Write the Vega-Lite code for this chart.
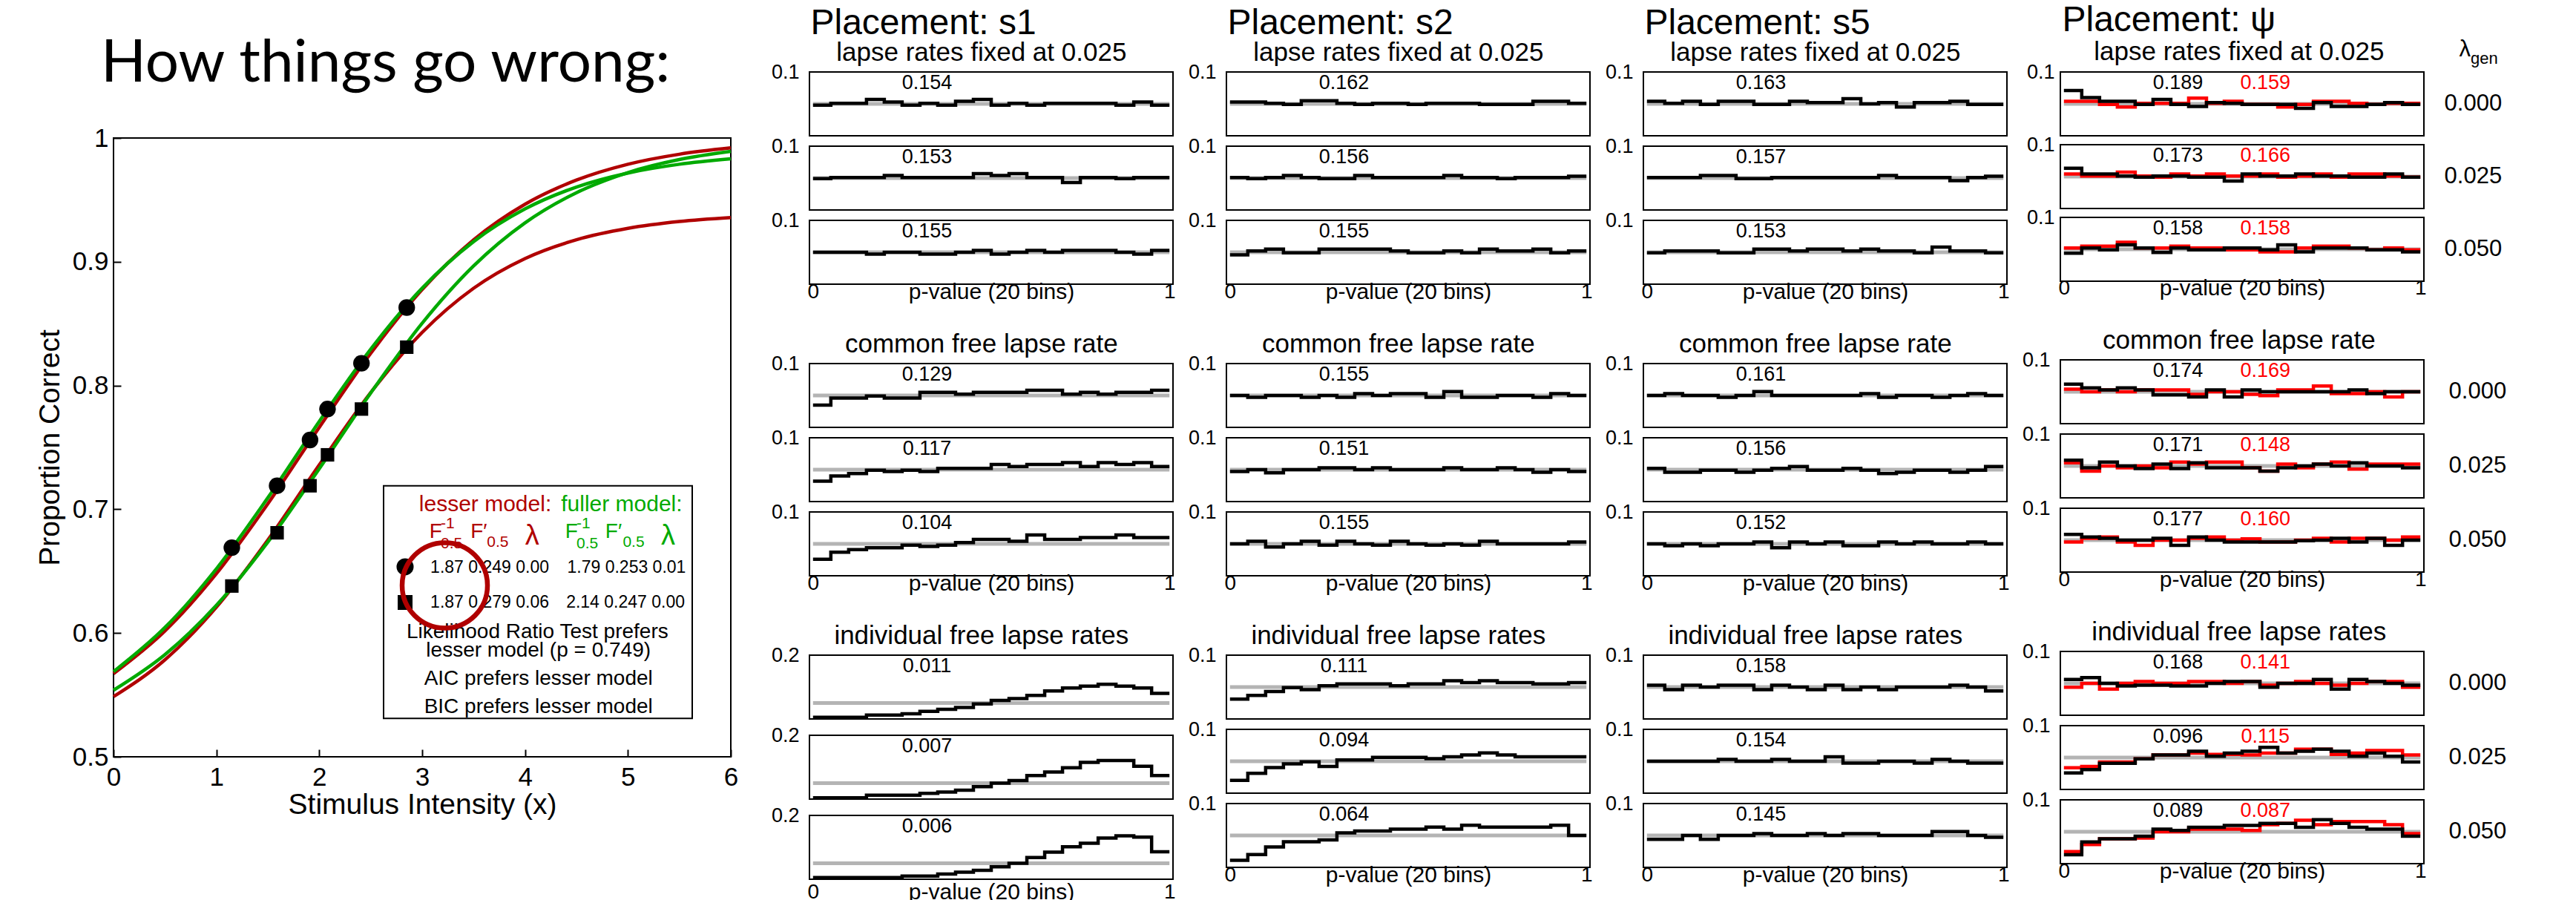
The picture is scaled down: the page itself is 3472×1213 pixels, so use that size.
{
"$schema":"https://vega.github.io/schema/vega-lite/v6.json",
"background":"#ffffff",
"padding":{"left":47,"top":0,"right":5,"bottom":5},
"config":{
 "font":"Liberation Sans",
 "view":{"stroke":"#000","strokeWidth":2},
 "axis":{"domain":false,"ticks":false,"tickSize":0,"grid":false,"labelFont":"Liberation Sans","titleFont":"Liberation Sans","labelColor":"#000","titleColor":"#000","titleFontWeight":"normal","labelFontSize":27,"titleFontSize":30},
 "axisX":{"labelPadding":9,"labelBaseline":"middle","titleY":9,"titleBaseline":"middle","labelFontSize":28},
 "axisY":{"labelPadding":8},
 "line":{"interpolate":"step-after","strokeWidth":4.5},
 "text":{"font":"Liberation Sans","fontSize":27,"color":"#000"},
 "title":{"font":"Liberation Sans","fontSize":35,"fontWeight":"normal","color":"#000","anchor":"middle"},
 "header":{"labelFont":"Liberation Sans","labelColor":"#000"},
 "facet":{"spacing":12}
},
"datasets":{
"curves":[
{"m":"lesser","s":"circle","x":0,"y":0.5672},{"m":"lesser","s":"circle","x":0.5,"y":0.6017},{"m":"lesser","s":"circle","x":1,"y":0.648},{"m":"lesser","s":"circle","x":1.5,"y":0.7044},{"m":"lesser","s":"circle","x":2,"y":0.7662},{"m":"lesser","s":"circle","x":2.5,"y":0.826},{"m":"lesser","s":"circle","x":3,"y":0.8775},{"m":"lesser","s":"circle","x":3.5,"y":0.9177},{"m":"lesser","s":"circle","x":4,"y":0.9465},{"m":"lesser","s":"circle","x":4.5,"y":0.966},{"m":"lesser","s":"circle","x":5,"y":0.9788},{"m":"lesser","s":"circle","x":5.5,"y":0.9869},{"m":"lesser","s":"circle","x":6,"y":0.992},
{"m":"lesser","s":"square","x":0,"y":0.5486},{"m":"lesser","s":"square","x":0.5,"y":0.5784},{"m":"lesser","s":"square","x":1,"y":0.6209},{"m":"lesser","s":"square","x":1.5,"y":0.6752},{"m":"lesser","s":"square","x":2,"y":0.7359},{"m":"lesser","s":"square","x":2.5,"y":0.7943},{"m":"lesser","s":"square","x":3,"y":0.8429},{"m":"lesser","s":"square","x":3.5,"y":0.8786},{"m":"lesser","s":"square","x":4,"y":0.9026},{"m":"lesser","s":"square","x":4.5,"y":0.9178},{"m":"lesser","s":"square","x":5,"y":0.927},{"m":"lesser","s":"square","x":5.5,"y":0.9325},{"m":"lesser","s":"square","x":6,"y":0.9357},
{"m":"fuller","s":"circle","x":0,"y":0.5688},{"m":"fuller","s":"circle","x":0.5,"y":0.6045},{"m":"fuller","s":"circle","x":1,"y":0.6519},{"m":"fuller","s":"circle","x":1.5,"y":0.7093},{"m":"fuller","s":"circle","x":2,"y":0.771},{"m":"fuller","s":"circle","x":2.5,"y":0.8294},{"m":"fuller","s":"circle","x":3,"y":0.8787},{"m":"fuller","s":"circle","x":3.5,"y":0.9163},{"m":"fuller","s":"circle","x":4,"y":0.9427},{"m":"fuller","s":"circle","x":4.5,"y":0.9604},{"m":"fuller","s":"circle","x":5,"y":0.9717},{"m":"fuller","s":"circle","x":5.5,"y":0.9788},{"m":"fuller","s":"circle","x":6,"y":0.9832},
{"m":"fuller","s":"square","x":0,"y":0.5538},{"m":"fuller","s":"square","x":0.5,"y":0.5826},{"m":"fuller","s":"square","x":1,"y":0.6224},{"m":"fuller","s":"square","x":1.5,"y":0.6735},{"m":"fuller","s":"square","x":2,"y":0.7328},{"m":"fuller","s":"square","x":2.5,"y":0.794},{"m":"fuller","s":"square","x":3,"y":0.8503},{"m":"fuller","s":"square","x":3.5,"y":0.8966},{"m":"fuller","s":"square","x":4,"y":0.9314},{"m":"fuller","s":"square","x":4.5,"y":0.9558},{"m":"fuller","s":"square","x":5,"y":0.9721},{"m":"fuller","s":"square","x":5.5,"y":0.9826},{"m":"fuller","s":"square","x":6,"y":0.9892}
],
"pts":[
{"s":"circle","x":1.15,"y":0.669},{"s":"circle","x":1.59,"y":0.719},{"s":"circle","x":1.91,"y":0.756},{"s":"circle","x":2.08,"y":0.781},{"s":"circle","x":2.41,"y":0.818},{"s":"circle","x":2.85,"y":0.863},
{"s":"square","x":1.15,"y":0.638},{"s":"square","x":1.59,"y":0.681},{"s":"square","x":1.91,"y":0.719},{"s":"square","x":2.08,"y":0.744},{"s":"square","x":2.41,"y":0.781},{"s":"square","x":2.85,"y":0.831}
],
"s1A":[
{"l":0,"b":0,"v":0.048,"t":"0.154"},{"l":0,"b":1,"v":0.051},{"l":0,"b":2,"v":0.051},{"l":0,"b":3,"v":0.057},{"l":0,"b":4,"v":0.053},{"l":0,"b":5,"v":0.048},{"l":0,"b":6,"v":0.051},{"l":0,"b":7,"v":0.048},{"l":0,"b":8,"v":0.054},{"l":0,"b":9,"v":0.057},{"l":0,"b":10,"v":0.048},{"l":0,"b":11,"v":0.051},{"l":0,"b":12,"v":0.048},{"l":0,"b":13,"v":0.051},{"l":0,"b":14,"v":0.051},{"l":0,"b":15,"v":0.051},{"l":0,"b":16,"v":0.051},{"l":0,"b":17,"v":0.048},{"l":0,"b":18,"v":0.053},{"l":0,"b":19,"v":0.048},{"l":0,"b":20,"v":0.048},
{"l":1,"b":0,"v":0.049,"t":"0.153"},{"l":1,"b":1,"v":0.051},{"l":1,"b":2,"v":0.051},{"l":1,"b":3,"v":0.051},{"l":1,"b":4,"v":0.054},{"l":1,"b":5,"v":0.051},{"l":1,"b":6,"v":0.051},{"l":1,"b":7,"v":0.051},{"l":1,"b":8,"v":0.051},{"l":1,"b":9,"v":0.057},{"l":1,"b":10,"v":0.054},{"l":1,"b":11,"v":0.057},{"l":1,"b":12,"v":0.051},{"l":1,"b":13,"v":0.051},{"l":1,"b":14,"v":0.043},{"l":1,"b":15,"v":0.051},{"l":1,"b":16,"v":0.051},{"l":1,"b":17,"v":0.049},{"l":1,"b":18,"v":0.051},{"l":1,"b":19,"v":0.051},{"l":1,"b":20,"v":0.051},
{"l":2,"b":0,"v":0.05,"t":"0.155"},{"l":2,"b":1,"v":0.05},{"l":2,"b":2,"v":0.05},{"l":2,"b":3,"v":0.047},{"l":2,"b":4,"v":0.05},{"l":2,"b":5,"v":0.05},{"l":2,"b":6,"v":0.047},{"l":2,"b":7,"v":0.047},{"l":2,"b":8,"v":0.05},{"l":2,"b":9,"v":0.053},{"l":2,"b":10,"v":0.047},{"l":2,"b":11,"v":0.05},{"l":2,"b":12,"v":0.053},{"l":2,"b":13,"v":0.05},{"l":2,"b":14,"v":0.053},{"l":2,"b":15,"v":0.053},{"l":2,"b":16,"v":0.053},{"l":2,"b":17,"v":0.05},{"l":2,"b":18,"v":0.047},{"l":2,"b":19,"v":0.053},{"l":2,"b":20,"v":0.053}
],
"s2A":[
{"l":0,"b":0,"v":0.053,"t":"0.162"},{"l":0,"b":1,"v":0.053},{"l":0,"b":2,"v":0.051},{"l":0,"b":3,"v":0.049},{"l":0,"b":4,"v":0.055},{"l":0,"b":5,"v":0.055},{"l":0,"b":6,"v":0.051},{"l":0,"b":7,"v":0.049},{"l":0,"b":8,"v":0.051},{"l":0,"b":9,"v":0.051},{"l":0,"b":10,"v":0.049},{"l":0,"b":11,"v":0.051},{"l":0,"b":12,"v":0.051},{"l":0,"b":13,"v":0.051},{"l":0,"b":14,"v":0.049},{"l":0,"b":15,"v":0.049},{"l":0,"b":16,"v":0.049},{"l":0,"b":17,"v":0.054},{"l":0,"b":18,"v":0.054},{"l":0,"b":19,"v":0.051},{"l":0,"b":20,"v":0.051},
{"l":1,"b":0,"v":0.051,"t":"0.156"},{"l":1,"b":1,"v":0.049},{"l":1,"b":2,"v":0.051},{"l":1,"b":3,"v":0.054},{"l":1,"b":4,"v":0.051},{"l":1,"b":5,"v":0.049},{"l":1,"b":6,"v":0.049},{"l":1,"b":7,"v":0.054},{"l":1,"b":8,"v":0.051},{"l":1,"b":9,"v":0.051},{"l":1,"b":10,"v":0.051},{"l":1,"b":11,"v":0.051},{"l":1,"b":12,"v":0.054},{"l":1,"b":13,"v":0.051},{"l":1,"b":14,"v":0.051},{"l":1,"b":15,"v":0.049},{"l":1,"b":16,"v":0.051},{"l":1,"b":17,"v":0.051},{"l":1,"b":18,"v":0.051},{"l":1,"b":19,"v":0.053},{"l":1,"b":20,"v":0.053},
{"l":2,"b":0,"v":0.046,"t":"0.155"},{"l":2,"b":1,"v":0.052},{"l":2,"b":2,"v":0.055},{"l":2,"b":3,"v":0.049},{"l":2,"b":4,"v":0.049},{"l":2,"b":5,"v":0.055},{"l":2,"b":6,"v":0.055},{"l":2,"b":7,"v":0.055},{"l":2,"b":8,"v":0.055},{"l":2,"b":9,"v":0.052},{"l":2,"b":10,"v":0.049},{"l":2,"b":11,"v":0.049},{"l":2,"b":12,"v":0.052},{"l":2,"b":13,"v":0.049},{"l":2,"b":14,"v":0.055},{"l":2,"b":15,"v":0.052},{"l":2,"b":16,"v":0.052},{"l":2,"b":17,"v":0.055},{"l":2,"b":18,"v":0.049},{"l":2,"b":19,"v":0.052},{"l":2,"b":20,"v":0.052}
],
"s5A":[
{"l":0,"b":0,"v":0.054,"t":"0.163"},{"l":0,"b":1,"v":0.051},{"l":0,"b":2,"v":0.054},{"l":0,"b":3,"v":0.049},{"l":0,"b":4,"v":0.054},{"l":0,"b":5,"v":0.054},{"l":0,"b":6,"v":0.049},{"l":0,"b":7,"v":0.049},{"l":0,"b":8,"v":0.054},{"l":0,"b":9,"v":0.052},{"l":0,"b":10,"v":0.052},{"l":0,"b":11,"v":0.058},{"l":0,"b":12,"v":0.05},{"l":0,"b":13,"v":0.052},{"l":0,"b":14,"v":0.045},{"l":0,"b":15,"v":0.052},{"l":0,"b":16,"v":0.052},{"l":0,"b":17,"v":0.054},{"l":0,"b":18,"v":0.049},{"l":0,"b":19,"v":0.049},{"l":0,"b":20,"v":0.049},
{"l":1,"b":0,"v":0.051,"t":"0.157"},{"l":1,"b":1,"v":0.051},{"l":1,"b":2,"v":0.051},{"l":1,"b":3,"v":0.054},{"l":1,"b":4,"v":0.054},{"l":1,"b":5,"v":0.049},{"l":1,"b":6,"v":0.049},{"l":1,"b":7,"v":0.051},{"l":1,"b":8,"v":0.051},{"l":1,"b":9,"v":0.051},{"l":1,"b":10,"v":0.051},{"l":1,"b":11,"v":0.051},{"l":1,"b":12,"v":0.051},{"l":1,"b":13,"v":0.054},{"l":1,"b":14,"v":0.051},{"l":1,"b":15,"v":0.051},{"l":1,"b":16,"v":0.051},{"l":1,"b":17,"v":0.046},{"l":1,"b":18,"v":0.051},{"l":1,"b":19,"v":0.053},{"l":1,"b":20,"v":0.053},
{"l":2,"b":0,"v":0.049,"t":"0.153"},{"l":2,"b":1,"v":0.052},{"l":2,"b":2,"v":0.052},{"l":2,"b":3,"v":0.052},{"l":2,"b":4,"v":0.049},{"l":2,"b":5,"v":0.049},{"l":2,"b":6,"v":0.055},{"l":2,"b":7,"v":0.055},{"l":2,"b":8,"v":0.052},{"l":2,"b":9,"v":0.055},{"l":2,"b":10,"v":0.055},{"l":2,"b":11,"v":0.052},{"l":2,"b":12,"v":0.055},{"l":2,"b":13,"v":0.052},{"l":2,"b":14,"v":0.052},{"l":2,"b":15,"v":0.049},{"l":2,"b":16,"v":0.058},{"l":2,"b":17,"v":0.052},{"l":2,"b":18,"v":0.052},{"l":2,"b":19,"v":0.049},{"l":2,"b":20,"v":0.049}
],
"pA":[
{"l":0,"r":1,"b":0,"v":0.054,"t":"0.159"},{"l":0,"r":1,"b":1,"v":0.054},{"l":0,"r":1,"b":2,"v":0.049},{"l":0,"r":1,"b":3,"v":0.045},{"l":0,"r":1,"b":4,"v":0.051},{"l":0,"r":1,"b":5,"v":0.051},{"l":0,"r":1,"b":6,"v":0.051},{"l":0,"r":1,"b":7,"v":0.059},{"l":0,"r":1,"b":8,"v":0.051},{"l":0,"r":1,"b":9,"v":0.054},{"l":0,"r":1,"b":10,"v":0.049},{"l":0,"r":1,"b":11,"v":0.049},{"l":0,"r":1,"b":12,"v":0.045},{"l":0,"r":1,"b":13,"v":0.049},{"l":0,"r":1,"b":14,"v":0.054},{"l":0,"r":1,"b":15,"v":0.054},{"l":0,"r":1,"b":16,"v":0.051},{"l":0,"r":1,"b":17,"v":0.049},{"l":0,"r":1,"b":18,"v":0.051},{"l":0,"r":1,"b":19,"v":0.051},{"l":0,"r":1,"b":20,"v":0.051},
{"l":1,"r":1,"b":0,"v":0.054,"t":"0.166"},{"l":1,"r":1,"b":1,"v":0.051},{"l":1,"r":1,"b":2,"v":0.051},{"l":1,"r":1,"b":3,"v":0.057},{"l":1,"r":1,"b":4,"v":0.051},{"l":1,"r":1,"b":5,"v":0.049},{"l":1,"r":1,"b":6,"v":0.054},{"l":1,"r":1,"b":7,"v":0.051},{"l":1,"r":1,"b":8,"v":0.054},{"l":1,"r":1,"b":9,"v":0.051},{"l":1,"r":1,"b":10,"v":0.051},{"l":1,"r":1,"b":11,"v":0.054},{"l":1,"r":1,"b":12,"v":0.049},{"l":1,"r":1,"b":13,"v":0.051},{"l":1,"r":1,"b":14,"v":0.054},{"l":1,"r":1,"b":15,"v":0.049},{"l":1,"r":1,"b":16,"v":0.054},{"l":1,"r":1,"b":17,"v":0.054},{"l":1,"r":1,"b":18,"v":0.051},{"l":1,"r":1,"b":19,"v":0.049},{"l":1,"r":1,"b":20,"v":0.049},
{"l":2,"r":1,"b":0,"v":0.052,"t":"0.158"},{"l":2,"r":1,"b":1,"v":0.055},{"l":2,"r":1,"b":2,"v":0.055},{"l":2,"r":1,"b":3,"v":0.061},{"l":2,"r":1,"b":4,"v":0.052},{"l":2,"r":1,"b":5,"v":0.052},{"l":2,"r":1,"b":6,"v":0.055},{"l":2,"r":1,"b":7,"v":0.052},{"l":2,"r":1,"b":8,"v":0.052},{"l":2,"r":1,"b":9,"v":0.049},{"l":2,"r":1,"b":10,"v":0.049},{"l":2,"r":1,"b":11,"v":0.046},{"l":2,"r":1,"b":12,"v":0.046},{"l":2,"r":1,"b":13,"v":0.052},{"l":2,"r":1,"b":14,"v":0.055},{"l":2,"r":1,"b":15,"v":0.055},{"l":2,"r":1,"b":16,"v":0.052},{"l":2,"r":1,"b":17,"v":0.049},{"l":2,"r":1,"b":18,"v":0.052},{"l":2,"r":1,"b":19,"v":0.049},{"l":2,"r":1,"b":20,"v":0.049},
{"l":0,"b":0,"v":0.071,"t":"0.189"},{"l":0,"b":1,"v":0.06},{"l":0,"b":2,"v":0.054},{"l":0,"b":3,"v":0.054},{"l":0,"b":4,"v":0.049},{"l":0,"b":5,"v":0.057},{"l":0,"b":6,"v":0.049},{"l":0,"b":7,"v":0.046},{"l":0,"b":8,"v":0.052},{"l":0,"b":9,"v":0.051},{"l":0,"b":10,"v":0.049},{"l":0,"b":11,"v":0.049},{"l":0,"b":12,"v":0.049},{"l":0,"b":13,"v":0.043},{"l":0,"b":14,"v":0.052},{"l":0,"b":15,"v":0.046},{"l":0,"b":16,"v":0.046},{"l":0,"b":17,"v":0.049},{"l":0,"b":18,"v":0.052},{"l":0,"b":19,"v":0.049},{"l":0,"b":20,"v":0.049},
{"l":1,"b":0,"v":0.063,"t":"0.173"},{"l":1,"b":1,"v":0.054},{"l":1,"b":2,"v":0.054},{"l":1,"b":3,"v":0.051},{"l":1,"b":4,"v":0.049},{"l":1,"b":5,"v":0.051},{"l":1,"b":6,"v":0.051},{"l":1,"b":7,"v":0.049},{"l":1,"b":8,"v":0.049},{"l":1,"b":9,"v":0.043},{"l":1,"b":10,"v":0.054},{"l":1,"b":11,"v":0.051},{"l":1,"b":12,"v":0.051},{"l":1,"b":13,"v":0.054},{"l":1,"b":14,"v":0.051},{"l":1,"b":15,"v":0.051},{"l":1,"b":16,"v":0.049},{"l":1,"b":17,"v":0.049},{"l":1,"b":18,"v":0.054},{"l":1,"b":19,"v":0.049},{"l":1,"b":20,"v":0.049},
{"l":2,"b":0,"v":0.044,"t":"0.158"},{"l":2,"b":1,"v":0.052},{"l":2,"b":2,"v":0.049},{"l":2,"b":3,"v":0.057},{"l":2,"b":4,"v":0.052},{"l":2,"b":5,"v":0.045},{"l":2,"b":6,"v":0.052},{"l":2,"b":7,"v":0.049},{"l":2,"b":8,"v":0.049},{"l":2,"b":9,"v":0.052},{"l":2,"b":10,"v":0.052},{"l":2,"b":11,"v":0.049},{"l":2,"b":12,"v":0.057},{"l":2,"b":13,"v":0.046},{"l":2,"b":14,"v":0.052},{"l":2,"b":15,"v":0.052},{"l":2,"b":16,"v":0.052},{"l":2,"b":17,"v":0.049},{"l":2,"b":18,"v":0.049},{"l":2,"b":19,"v":0.046},{"l":2,"b":20,"v":0.046}
],
"s1B":[
{"l":0,"b":0,"v":0.035,"t":"0.129"},{"l":0,"b":1,"v":0.046},{"l":0,"b":2,"v":0.046},{"l":0,"b":3,"v":0.049},{"l":0,"b":4,"v":0.046},{"l":0,"b":5,"v":0.046},{"l":0,"b":6,"v":0.055},{"l":0,"b":7,"v":0.055},{"l":0,"b":8,"v":0.052},{"l":0,"b":9,"v":0.055},{"l":0,"b":10,"v":0.055},{"l":0,"b":11,"v":0.055},{"l":0,"b":12,"v":0.058},{"l":0,"b":13,"v":0.058},{"l":0,"b":14,"v":0.052},{"l":0,"b":15,"v":0.055},{"l":0,"b":16,"v":0.052},{"l":0,"b":17,"v":0.055},{"l":0,"b":18,"v":0.055},{"l":0,"b":19,"v":0.058},{"l":0,"b":20,"v":0.058},
{"l":1,"b":0,"v":0.032,"t":"0.117"},{"l":1,"b":1,"v":0.04},{"l":1,"b":2,"v":0.044},{"l":1,"b":3,"v":0.049},{"l":1,"b":4,"v":0.047},{"l":1,"b":5,"v":0.049},{"l":1,"b":6,"v":0.047},{"l":1,"b":7,"v":0.052},{"l":1,"b":8,"v":0.052},{"l":1,"b":9,"v":0.052},{"l":1,"b":10,"v":0.058},{"l":1,"b":11,"v":0.055},{"l":1,"b":12,"v":0.058},{"l":1,"b":13,"v":0.058},{"l":1,"b":14,"v":0.061},{"l":1,"b":15,"v":0.055},{"l":1,"b":16,"v":0.061},{"l":1,"b":17,"v":0.058},{"l":1,"b":18,"v":0.061},{"l":1,"b":19,"v":0.055},{"l":1,"b":20,"v":0.055},
{"l":2,"b":0,"v":0.026,"t":"0.104"},{"l":2,"b":1,"v":0.037},{"l":2,"b":2,"v":0.041},{"l":2,"b":3,"v":0.044},{"l":2,"b":4,"v":0.044},{"l":2,"b":5,"v":0.048},{"l":2,"b":6,"v":0.046},{"l":2,"b":7,"v":0.048},{"l":2,"b":8,"v":0.052},{"l":2,"b":9,"v":0.057},{"l":2,"b":10,"v":0.057},{"l":2,"b":11,"v":0.054},{"l":2,"b":12,"v":0.064},{"l":2,"b":13,"v":0.057},{"l":2,"b":14,"v":0.057},{"l":2,"b":15,"v":0.06},{"l":2,"b":16,"v":0.06},{"l":2,"b":17,"v":0.064},{"l":2,"b":18,"v":0.06},{"l":2,"b":19,"v":0.06},{"l":2,"b":20,"v":0.06}
],
"s2B":[
{"l":0,"b":0,"v":0.05,"t":"0.155"},{"l":0,"b":1,"v":0.047},{"l":0,"b":2,"v":0.05},{"l":0,"b":3,"v":0.05},{"l":0,"b":4,"v":0.047},{"l":0,"b":5,"v":0.05},{"l":0,"b":6,"v":0.047},{"l":0,"b":7,"v":0.053},{"l":0,"b":8,"v":0.05},{"l":0,"b":9,"v":0.053},{"l":0,"b":10,"v":0.053},{"l":0,"b":11,"v":0.047},{"l":0,"b":12,"v":0.056},{"l":0,"b":13,"v":0.047},{"l":0,"b":14,"v":0.047},{"l":0,"b":15,"v":0.05},{"l":0,"b":16,"v":0.05},{"l":0,"b":17,"v":0.047},{"l":0,"b":18,"v":0.053},{"l":0,"b":19,"v":0.05},{"l":0,"b":20,"v":0.05},
{"l":1,"b":0,"v":0.047,"t":"0.151"},{"l":1,"b":1,"v":0.05},{"l":1,"b":2,"v":0.045},{"l":1,"b":3,"v":0.05},{"l":1,"b":4,"v":0.05},{"l":1,"b":5,"v":0.053},{"l":1,"b":6,"v":0.053},{"l":1,"b":7,"v":0.05},{"l":1,"b":8,"v":0.053},{"l":1,"b":9,"v":0.05},{"l":1,"b":10,"v":0.05},{"l":1,"b":11,"v":0.05},{"l":1,"b":12,"v":0.053},{"l":1,"b":13,"v":0.05},{"l":1,"b":14,"v":0.05},{"l":1,"b":15,"v":0.053},{"l":1,"b":16,"v":0.05},{"l":1,"b":17,"v":0.046},{"l":1,"b":18,"v":0.05},{"l":1,"b":19,"v":0.047},{"l":1,"b":20,"v":0.047},
{"l":2,"b":0,"v":0.05,"t":"0.155"},{"l":2,"b":1,"v":0.054},{"l":2,"b":2,"v":0.045},{"l":2,"b":3,"v":0.05},{"l":2,"b":4,"v":0.054},{"l":2,"b":5,"v":0.048},{"l":2,"b":6,"v":0.054},{"l":2,"b":7,"v":0.05},{"l":2,"b":8,"v":0.048},{"l":2,"b":9,"v":0.054},{"l":2,"b":10,"v":0.05},{"l":2,"b":11,"v":0.048},{"l":2,"b":12,"v":0.05},{"l":2,"b":13,"v":0.048},{"l":2,"b":14,"v":0.054},{"l":2,"b":15,"v":0.05},{"l":2,"b":16,"v":0.05},{"l":2,"b":17,"v":0.05},{"l":2,"b":18,"v":0.05},{"l":2,"b":19,"v":0.053},{"l":2,"b":20,"v":0.053}
],
"s5B":[
{"l":0,"b":0,"v":0.05,"t":"0.161"},{"l":0,"b":1,"v":0.053},{"l":0,"b":2,"v":0.05},{"l":0,"b":3,"v":0.05},{"l":0,"b":4,"v":0.047},{"l":0,"b":5,"v":0.05},{"l":0,"b":6,"v":0.056},{"l":0,"b":7,"v":0.05},{"l":0,"b":8,"v":0.05},{"l":0,"b":9,"v":0.05},{"l":0,"b":10,"v":0.05},{"l":0,"b":11,"v":0.05},{"l":0,"b":12,"v":0.053},{"l":0,"b":13,"v":0.047},{"l":0,"b":14,"v":0.05},{"l":0,"b":15,"v":0.05},{"l":0,"b":16,"v":0.047},{"l":0,"b":17,"v":0.05},{"l":0,"b":18,"v":0.053},{"l":0,"b":19,"v":0.05},{"l":0,"b":20,"v":0.05},
{"l":1,"b":0,"v":0.052,"t":"0.156"},{"l":1,"b":1,"v":0.046},{"l":1,"b":2,"v":0.046},{"l":1,"b":3,"v":0.049},{"l":1,"b":4,"v":0.049},{"l":1,"b":5,"v":0.046},{"l":1,"b":6,"v":0.049},{"l":1,"b":7,"v":0.052},{"l":1,"b":8,"v":0.055},{"l":1,"b":9,"v":0.049},{"l":1,"b":10,"v":0.049},{"l":1,"b":11,"v":0.052},{"l":1,"b":12,"v":0.049},{"l":1,"b":13,"v":0.044},{"l":1,"b":14,"v":0.046},{"l":1,"b":15,"v":0.049},{"l":1,"b":16,"v":0.049},{"l":1,"b":17,"v":0.046},{"l":1,"b":18,"v":0.049},{"l":1,"b":19,"v":0.055},{"l":1,"b":20,"v":0.055},
{"l":2,"b":0,"v":0.05,"t":"0.152"},{"l":2,"b":1,"v":0.047},{"l":2,"b":2,"v":0.05},{"l":2,"b":3,"v":0.047},{"l":2,"b":4,"v":0.05},{"l":2,"b":5,"v":0.05},{"l":2,"b":6,"v":0.053},{"l":2,"b":7,"v":0.044},{"l":2,"b":8,"v":0.053},{"l":2,"b":9,"v":0.05},{"l":2,"b":10,"v":0.053},{"l":2,"b":11,"v":0.047},{"l":2,"b":12,"v":0.047},{"l":2,"b":13,"v":0.053},{"l":2,"b":14,"v":0.05},{"l":2,"b":15,"v":0.053},{"l":2,"b":16,"v":0.05},{"l":2,"b":17,"v":0.05},{"l":2,"b":18,"v":0.053},{"l":2,"b":19,"v":0.05},{"l":2,"b":20,"v":0.05}
],
"pB":[
{"l":0,"r":1,"b":0,"v":0.054,"t":"0.169"},{"l":0,"r":1,"b":1,"v":0.05},{"l":0,"r":1,"b":2,"v":0.053},{"l":0,"r":1,"b":3,"v":0.05},{"l":0,"r":1,"b":4,"v":0.053},{"l":0,"r":1,"b":5,"v":0.053},{"l":0,"r":1,"b":6,"v":0.053},{"l":0,"r":1,"b":7,"v":0.046},{"l":0,"r":1,"b":8,"v":0.05},{"l":0,"r":1,"b":9,"v":0.05},{"l":0,"r":1,"b":10,"v":0.046},{"l":0,"r":1,"b":11,"v":0.044},{"l":0,"r":1,"b":12,"v":0.053},{"l":0,"r":1,"b":13,"v":0.053},{"l":0,"r":1,"b":14,"v":0.059},{"l":0,"r":1,"b":15,"v":0.047},{"l":0,"r":1,"b":16,"v":0.047},{"l":0,"r":1,"b":17,"v":0.05},{"l":0,"r":1,"b":18,"v":0.042},{"l":0,"r":1,"b":19,"v":0.05},{"l":0,"r":1,"b":20,"v":0.05},
{"l":1,"r":1,"b":0,"v":0.055,"t":"0.148"},{"l":1,"r":1,"b":1,"v":0.042},{"l":1,"r":1,"b":2,"v":0.05},{"l":1,"r":1,"b":3,"v":0.047},{"l":1,"r":1,"b":4,"v":0.05},{"l":1,"r":1,"b":5,"v":0.047},{"l":1,"r":1,"b":6,"v":0.056},{"l":1,"r":1,"b":7,"v":0.053},{"l":1,"r":1,"b":8,"v":0.056},{"l":1,"r":1,"b":9,"v":0.056},{"l":1,"r":1,"b":10,"v":0.047},{"l":1,"r":1,"b":11,"v":0.042},{"l":1,"r":1,"b":12,"v":0.053},{"l":1,"r":1,"b":13,"v":0.047},{"l":1,"r":1,"b":14,"v":0.053},{"l":1,"r":1,"b":15,"v":0.056},{"l":1,"r":1,"b":16,"v":0.045},{"l":1,"r":1,"b":17,"v":0.053},{"l":1,"r":1,"b":18,"v":0.053},{"l":1,"r":1,"b":19,"v":0.053},{"l":1,"r":1,"b":20,"v":0.053},
{"l":2,"r":1,"b":0,"v":0.047,"t":"0.160"},{"l":2,"r":1,"b":1,"v":0.053},{"l":2,"r":1,"b":2,"v":0.055},{"l":2,"r":1,"b":3,"v":0.047},{"l":2,"r":1,"b":4,"v":0.042},{"l":2,"r":1,"b":5,"v":0.05},{"l":2,"r":1,"b":6,"v":0.05},{"l":2,"r":1,"b":7,"v":0.053},{"l":2,"r":1,"b":8,"v":0.055},{"l":2,"r":1,"b":9,"v":0.05},{"l":2,"r":1,"b":10,"v":0.052},{"l":2,"r":1,"b":11,"v":0.047},{"l":2,"r":1,"b":12,"v":0.047},{"l":2,"r":1,"b":13,"v":0.05},{"l":2,"r":1,"b":14,"v":0.053},{"l":2,"r":1,"b":15,"v":0.047},{"l":2,"r":1,"b":16,"v":0.053},{"l":2,"r":1,"b":17,"v":0.053},{"l":2,"r":1,"b":18,"v":0.05},{"l":2,"r":1,"b":19,"v":0.055},{"l":2,"r":1,"b":20,"v":0.055},
{"l":0,"b":0,"v":0.062,"t":"0.174"},{"l":0,"b":1,"v":0.056},{"l":0,"b":2,"v":0.053},{"l":0,"b":3,"v":0.056},{"l":0,"b":4,"v":0.053},{"l":0,"b":5,"v":0.045},{"l":0,"b":6,"v":0.045},{"l":0,"b":7,"v":0.042},{"l":0,"b":8,"v":0.053},{"l":0,"b":9,"v":0.042},{"l":0,"b":10,"v":0.053},{"l":0,"b":11,"v":0.05},{"l":0,"b":12,"v":0.05},{"l":0,"b":13,"v":0.05},{"l":0,"b":14,"v":0.05},{"l":0,"b":15,"v":0.05},{"l":0,"b":16,"v":0.053},{"l":0,"b":17,"v":0.047},{"l":0,"b":18,"v":0.05},{"l":0,"b":19,"v":0.05},{"l":0,"b":20,"v":0.05},
{"l":1,"b":0,"v":0.059,"t":"0.171"},{"l":1,"b":1,"v":0.047},{"l":1,"b":2,"v":0.056},{"l":1,"b":3,"v":0.05},{"l":1,"b":4,"v":0.046},{"l":1,"b":5,"v":0.053},{"l":1,"b":6,"v":0.046},{"l":1,"b":7,"v":0.055},{"l":1,"b":8,"v":0.047},{"l":1,"b":9,"v":0.047},{"l":1,"b":10,"v":0.047},{"l":1,"b":11,"v":0.042},{"l":1,"b":12,"v":0.047},{"l":1,"b":13,"v":0.05},{"l":1,"b":14,"v":0.053},{"l":1,"b":15,"v":0.05},{"l":1,"b":16,"v":0.055},{"l":1,"b":17,"v":0.05},{"l":1,"b":18,"v":0.05},{"l":1,"b":19,"v":0.047},{"l":1,"b":20,"v":0.047},
{"l":2,"b":0,"v":0.059,"t":"0.177"},{"l":2,"b":1,"v":0.055},{"l":2,"b":2,"v":0.053},{"l":2,"b":3,"v":0.05},{"l":2,"b":4,"v":0.05},{"l":2,"b":5,"v":0.053},{"l":2,"b":6,"v":0.042},{"l":2,"b":7,"v":0.055},{"l":2,"b":8,"v":0.05},{"l":2,"b":9,"v":0.047},{"l":2,"b":10,"v":0.047},{"l":2,"b":11,"v":0.047},{"l":2,"b":12,"v":0.047},{"l":2,"b":13,"v":0.049},{"l":2,"b":14,"v":0.05},{"l":2,"b":15,"v":0.053},{"l":2,"b":16,"v":0.047},{"l":2,"b":17,"v":0.053},{"l":2,"b":18,"v":0.042},{"l":2,"b":19,"v":0.05},{"l":2,"b":20,"v":0.05}
],
"s1C":[
{"l":0,"b":0,"v":0.005,"t":"0.011"},{"l":0,"b":1,"v":0.005},{"l":0,"b":2,"v":0.005},{"l":0,"b":3,"v":0.012},{"l":0,"b":4,"v":0.012},{"l":0,"b":5,"v":0.016},{"l":0,"b":6,"v":0.024},{"l":0,"b":7,"v":0.03},{"l":0,"b":8,"v":0.036},{"l":0,"b":9,"v":0.047},{"l":0,"b":10,"v":0.058},{"l":0,"b":11,"v":0.064},{"l":0,"b":12,"v":0.074},{"l":0,"b":13,"v":0.088},{"l":0,"b":14,"v":0.097},{"l":0,"b":15,"v":0.103},{"l":0,"b":16,"v":0.109},{"l":0,"b":17,"v":0.103},{"l":0,"b":18,"v":0.097},{"l":0,"b":19,"v":0.08},{"l":0,"b":20,"v":0.08},
{"l":1,"b":0,"v":0.004,"t":"0.007"},{"l":1,"b":1,"v":0.004},{"l":1,"b":2,"v":0.004},{"l":1,"b":3,"v":0.012},{"l":1,"b":4,"v":0.012},{"l":1,"b":5,"v":0.012},{"l":1,"b":6,"v":0.018},{"l":1,"b":7,"v":0.022},{"l":1,"b":8,"v":0.028},{"l":1,"b":9,"v":0.039},{"l":1,"b":10,"v":0.05},{"l":1,"b":11,"v":0.058},{"l":1,"b":12,"v":0.074},{"l":1,"b":13,"v":0.085},{"l":1,"b":14,"v":0.098},{"l":1,"b":15,"v":0.115},{"l":1,"b":16,"v":0.121},{"l":1,"b":17,"v":0.121},{"l":1,"b":18,"v":0.103},{"l":1,"b":19,"v":0.074},{"l":1,"b":20,"v":0.074},
{"l":2,"b":0,"v":0.005,"t":"0.006"},{"l":2,"b":1,"v":0.005},{"l":2,"b":2,"v":0.005},{"l":2,"b":3,"v":0.005},{"l":2,"b":4,"v":0.005},{"l":2,"b":5,"v":0.01},{"l":2,"b":6,"v":0.01},{"l":2,"b":7,"v":0.016},{"l":2,"b":8,"v":0.022},{"l":2,"b":9,"v":0.028},{"l":2,"b":10,"v":0.039},{"l":2,"b":11,"v":0.05},{"l":2,"b":12,"v":0.068},{"l":2,"b":13,"v":0.085},{"l":2,"b":14,"v":0.102},{"l":2,"b":15,"v":0.113},{"l":2,"b":16,"v":0.129},{"l":2,"b":17,"v":0.136},{"l":2,"b":18,"v":0.132},{"l":2,"b":19,"v":0.086},{"l":2,"b":20,"v":0.086}
],
"s2C":[
{"l":0,"b":0,"v":0.031,"t":"0.111"},{"l":0,"b":1,"v":0.037},{"l":0,"b":2,"v":0.043},{"l":0,"b":3,"v":0.049},{"l":0,"b":4,"v":0.046},{"l":0,"b":5,"v":0.052},{"l":0,"b":6,"v":0.055},{"l":0,"b":7,"v":0.055},{"l":0,"b":8,"v":0.055},{"l":0,"b":9,"v":0.052},{"l":0,"b":10,"v":0.055},{"l":0,"b":11,"v":0.055},{"l":0,"b":12,"v":0.06},{"l":0,"b":13,"v":0.057},{"l":0,"b":14,"v":0.06},{"l":0,"b":15,"v":0.057},{"l":0,"b":16,"v":0.057},{"l":0,"b":17,"v":0.055},{"l":0,"b":18,"v":0.055},{"l":0,"b":19,"v":0.057},{"l":0,"b":20,"v":0.057},
{"l":1,"b":0,"v":0.02,"t":"0.094"},{"l":1,"b":1,"v":0.031},{"l":1,"b":2,"v":0.04},{"l":1,"b":3,"v":0.046},{"l":1,"b":4,"v":0.049},{"l":1,"b":5,"v":0.042},{"l":1,"b":6,"v":0.052},{"l":1,"b":7,"v":0.052},{"l":1,"b":8,"v":0.056},{"l":1,"b":9,"v":0.056},{"l":1,"b":10,"v":0.056},{"l":1,"b":11,"v":0.054},{"l":1,"b":12,"v":0.057},{"l":1,"b":13,"v":0.06},{"l":1,"b":14,"v":0.063},{"l":1,"b":15,"v":0.06},{"l":1,"b":16,"v":0.057},{"l":1,"b":17,"v":0.057},{"l":1,"b":18,"v":0.057},{"l":1,"b":19,"v":0.057},{"l":1,"b":20,"v":0.057},
{"l":2,"b":0,"v":0.011,"t":"0.064"},{"l":2,"b":1,"v":0.02},{"l":2,"b":2,"v":0.032},{"l":2,"b":3,"v":0.04},{"l":2,"b":4,"v":0.04},{"l":2,"b":5,"v":0.043},{"l":2,"b":6,"v":0.054},{"l":2,"b":7,"v":0.057},{"l":2,"b":8,"v":0.057},{"l":2,"b":9,"v":0.06},{"l":2,"b":10,"v":0.06},{"l":2,"b":11,"v":0.063},{"l":2,"b":12,"v":0.06},{"l":2,"b":13,"v":0.066},{"l":2,"b":14,"v":0.063},{"l":2,"b":15,"v":0.063},{"l":2,"b":16,"v":0.063},{"l":2,"b":17,"v":0.063},{"l":2,"b":18,"v":0.066},{"l":2,"b":19,"v":0.05},{"l":2,"b":20,"v":0.05}
],
"s5C":[
{"l":0,"b":0,"v":0.053,"t":"0.158"},{"l":0,"b":1,"v":0.046},{"l":0,"b":2,"v":0.053},{"l":0,"b":3,"v":0.05},{"l":0,"b":4,"v":0.053},{"l":0,"b":5,"v":0.053},{"l":0,"b":6,"v":0.046},{"l":0,"b":7,"v":0.053},{"l":0,"b":8,"v":0.05},{"l":0,"b":9,"v":0.046},{"l":0,"b":10,"v":0.053},{"l":0,"b":11,"v":0.046},{"l":0,"b":12,"v":0.05},{"l":0,"b":13,"v":0.046},{"l":0,"b":14,"v":0.05},{"l":0,"b":15,"v":0.05},{"l":0,"b":16,"v":0.05},{"l":0,"b":17,"v":0.053},{"l":0,"b":18,"v":0.05},{"l":0,"b":19,"v":0.044},{"l":0,"b":20,"v":0.044},
{"l":1,"b":0,"v":0.05,"t":"0.154"},{"l":1,"b":1,"v":0.05},{"l":1,"b":2,"v":0.05},{"l":1,"b":3,"v":0.05},{"l":1,"b":4,"v":0.053},{"l":1,"b":5,"v":0.05},{"l":1,"b":6,"v":0.05},{"l":1,"b":7,"v":0.053},{"l":1,"b":8,"v":0.05},{"l":1,"b":9,"v":0.05},{"l":1,"b":10,"v":0.057},{"l":1,"b":11,"v":0.047},{"l":1,"b":12,"v":0.047},{"l":1,"b":13,"v":0.05},{"l":1,"b":14,"v":0.05},{"l":1,"b":15,"v":0.047},{"l":1,"b":16,"v":0.053},{"l":1,"b":17,"v":0.05},{"l":1,"b":18,"v":0.047},{"l":1,"b":19,"v":0.047},{"l":1,"b":20,"v":0.047},
{"l":2,"b":0,"v":0.044,"t":"0.145"},{"l":2,"b":1,"v":0.044},{"l":2,"b":2,"v":0.05},{"l":2,"b":3,"v":0.044},{"l":2,"b":4,"v":0.05},{"l":2,"b":5,"v":0.05},{"l":2,"b":6,"v":0.053},{"l":2,"b":7,"v":0.05},{"l":2,"b":8,"v":0.05},{"l":2,"b":9,"v":0.053},{"l":2,"b":10,"v":0.05},{"l":2,"b":11,"v":0.053},{"l":2,"b":12,"v":0.053},{"l":2,"b":13,"v":0.05},{"l":2,"b":14,"v":0.05},{"l":2,"b":15,"v":0.05},{"l":2,"b":16,"v":0.056},{"l":2,"b":17,"v":0.056},{"l":2,"b":18,"v":0.05},{"l":2,"b":19,"v":0.047},{"l":2,"b":20,"v":0.047}
],
"pC":[
{"l":0,"r":1,"b":0,"v":0.044,"t":"0.141"},{"l":0,"r":1,"b":1,"v":0.05},{"l":0,"r":1,"b":2,"v":0.041},{"l":0,"r":1,"b":3,"v":0.05},{"l":0,"r":1,"b":4,"v":0.053},{"l":0,"r":1,"b":5,"v":0.05},{"l":0,"r":1,"b":6,"v":0.05},{"l":0,"r":1,"b":7,"v":0.053},{"l":0,"r":1,"b":8,"v":0.053},{"l":0,"r":1,"b":9,"v":0.05},{"l":0,"r":1,"b":10,"v":0.053},{"l":0,"r":1,"b":11,"v":0.047},{"l":0,"r":1,"b":12,"v":0.05},{"l":0,"r":1,"b":13,"v":0.053},{"l":0,"r":1,"b":14,"v":0.05},{"l":0,"r":1,"b":15,"v":0.047},{"l":0,"r":1,"b":16,"v":0.05},{"l":0,"r":1,"b":17,"v":0.053},{"l":0,"r":1,"b":18,"v":0.053},{"l":0,"r":1,"b":19,"v":0.044},{"l":0,"r":1,"b":20,"v":0.044},
{"l":1,"r":1,"b":0,"v":0.034,"t":"0.115"},{"l":1,"r":1,"b":1,"v":0.036},{"l":1,"r":1,"b":2,"v":0.043},{"l":1,"r":1,"b":3,"v":0.043},{"l":1,"r":1,"b":4,"v":0.048},{"l":1,"r":1,"b":5,"v":0.054},{"l":1,"r":1,"b":6,"v":0.054},{"l":1,"r":1,"b":7,"v":0.057},{"l":1,"r":1,"b":8,"v":0.055},{"l":1,"r":1,"b":9,"v":0.055},{"l":1,"r":1,"b":10,"v":0.054},{"l":1,"r":1,"b":11,"v":0.057},{"l":1,"r":1,"b":12,"v":0.057},{"l":1,"r":1,"b":13,"v":0.063},{"l":1,"r":1,"b":14,"v":0.063},{"l":1,"r":1,"b":15,"v":0.055},{"l":1,"r":1,"b":16,"v":0.057},{"l":1,"r":1,"b":17,"v":0.061},{"l":1,"r":1,"b":18,"v":0.061},{"l":1,"r":1,"b":19,"v":0.054},{"l":1,"r":1,"b":20,"v":0.054},
{"l":2,"r":1,"b":0,"v":0.019,"t":"0.087"},{"l":2,"r":1,"b":1,"v":0.03},{"l":2,"r":1,"b":2,"v":0.039},{"l":2,"r":1,"b":3,"v":0.039},{"l":2,"r":1,"b":4,"v":0.04},{"l":2,"r":1,"b":5,"v":0.05},{"l":2,"r":1,"b":6,"v":0.05},{"l":2,"r":1,"b":7,"v":0.054},{"l":2,"r":1,"b":8,"v":0.054},{"l":2,"r":1,"b":9,"v":0.054},{"l":2,"r":1,"b":10,"v":0.052},{"l":2,"r":1,"b":11,"v":0.061},{"l":2,"r":1,"b":12,"v":0.063},{"l":2,"r":1,"b":13,"v":0.068},{"l":2,"r":1,"b":14,"v":0.061},{"l":2,"r":1,"b":15,"v":0.066},{"l":2,"r":1,"b":16,"v":0.066},{"l":2,"r":1,"b":17,"v":0.066},{"l":2,"r":1,"b":18,"v":0.061},{"l":2,"r":1,"b":19,"v":0.047},{"l":2,"r":1,"b":20,"v":0.047},
{"l":0,"b":0,"v":0.056,"t":"0.168"},{"l":0,"b":1,"v":0.059},{"l":0,"b":2,"v":0.05},{"l":0,"b":3,"v":0.046},{"l":0,"b":4,"v":0.047},{"l":0,"b":5,"v":0.047},{"l":0,"b":6,"v":0.046},{"l":0,"b":7,"v":0.046},{"l":0,"b":8,"v":0.05},{"l":0,"b":9,"v":0.053},{"l":0,"b":10,"v":0.053},{"l":0,"b":11,"v":0.044},{"l":0,"b":12,"v":0.05},{"l":0,"b":13,"v":0.05},{"l":0,"b":14,"v":0.056},{"l":0,"b":15,"v":0.041},{"l":0,"b":16,"v":0.056},{"l":0,"b":17,"v":0.053},{"l":0,"b":18,"v":0.05},{"l":0,"b":19,"v":0.047},{"l":0,"b":20,"v":0.047},
{"l":1,"b":0,"v":0.026,"t":"0.096"},{"l":1,"b":1,"v":0.031},{"l":1,"b":2,"v":0.041},{"l":1,"b":3,"v":0.041},{"l":1,"b":4,"v":0.048},{"l":1,"b":5,"v":0.054},{"l":1,"b":6,"v":0.054},{"l":1,"b":7,"v":0.06},{"l":1,"b":8,"v":0.052},{"l":1,"b":9,"v":0.057},{"l":1,"b":10,"v":0.06},{"l":1,"b":11,"v":0.066},{"l":1,"b":12,"v":0.057},{"l":1,"b":13,"v":0.06},{"l":1,"b":14,"v":0.063},{"l":1,"b":15,"v":0.06},{"l":1,"b":16,"v":0.052},{"l":1,"b":17,"v":0.057},{"l":1,"b":18,"v":0.052},{"l":1,"b":19,"v":0.043},{"l":1,"b":20,"v":0.043},
{"l":2,"b":0,"v":0.014,"t":"0.089"},{"l":2,"b":1,"v":0.034},{"l":2,"b":2,"v":0.039},{"l":2,"b":3,"v":0.039},{"l":2,"b":4,"v":0.043},{"l":2,"b":5,"v":0.054},{"l":2,"b":6,"v":0.052},{"l":2,"b":7,"v":0.057},{"l":2,"b":8,"v":0.057},{"l":2,"b":9,"v":0.06},{"l":2,"b":10,"v":0.06},{"l":2,"b":11,"v":0.063},{"l":2,"b":12,"v":0.063},{"l":2,"b":13,"v":0.057},{"l":2,"b":14,"v":0.069},{"l":2,"b":15,"v":0.063},{"l":2,"b":16,"v":0.057},{"l":2,"b":17,"v":0.054},{"l":2,"b":18,"v":0.054},{"l":2,"b":19,"v":0.043},{"l":2,"b":20,"v":0.043}
]
},
"spacing":43,
"hconcat":[
{"spacing":10,"vconcat":[
 {"width":832,"height":35,"data":{"values":[]},"mark":"point","view":{"stroke":null}},
 {"width":832,"height":834,"data":{"values":[{}]},
  "title":{"text":"How things go wrong:","font":"Lato","fontSize":80,"anchor":"start","frame":"group","dx":-17,"offset":42},
  "layer":[
   {"data":{"name":"curves"},"transform":[{"filter":"datum.m=='lesser'"}],"mark":{"type":"line","color":"#b00000","strokeWidth":4.5,"interpolate":"monotone"},
    "encoding":{
     "x":{"field":"x","type":"quantitative","scale":{"domain":[0,6],"nice":false},"axis":{"values":[0,1,2,3,4,5,6],"format":"d","title":"Stimulus Intensity (x)","labelFontSize":35,"titleFontSize":39,"labelPadding":37,"titleY":64,"ticks":true,"tickSize":-10,"tickWidth":2,"tickColor":"#000","labelFlush":false}},
     "y":{"field":"y","type":"quantitative","scale":{"domain":[0.5,1],"nice":false,"zero":false},"axis":{"values":[0.5,0.6,0.7,0.8,0.9,1],"format":"~g","title":"Proportion Correct","labelFontSize":35,"titleFontSize":39,"labelPadding":17,"titlePadding":10,"ticks":true,"tickSize":-10,"tickWidth":2,"tickColor":"#000","labelFlush":false}},
     "detail":{"field":"s"}}},
   {"data":{"name":"curves"},"transform":[{"filter":"datum.m=='fuller'"}],"mark":{"type":"line","color":"#00aa00","strokeWidth":4.5,"interpolate":"monotone"},
    "encoding":{"x":{"field":"x","type":"quantitative"},"y":{"field":"y","type":"quantitative"},"detail":{"field":"s"}}},
   {"data":{"name":"pts"},"transform":[{"filter":"datum.s=='circle'"}],"mark":{"type":"point","shape":"circle","filled":true,"color":"#000","opacity":1,"size":500},
    "encoding":{"x":{"field":"x","type":"quantitative"},"y":{"field":"y","type":"quantitative"}}},
   {"data":{"name":"pts"},"transform":[{"filter":"datum.s=='square'"}],"mark":{"type":"point","shape":"square","filled":true,"color":"#000","opacity":1,"size":330},
    "encoding":{"x":{"field":"x","type":"quantitative"},"y":{"field":"y","type":"quantitative"}}},
   {"mark":{"type":"rect","fill":"#fff","stroke":"#000","strokeWidth":2},"encoding":{"x":{"datum":2.625},"x2":{"datum":5.625},"y":{"datum":0.531},"y2":{"datum":0.719}}},
   {"mark":{"type":"text","text":"lesser model:","color":"#b00000","fontSize":30,"align":"left"},"encoding":{"x":{"datum":2.97},"y":{"datum":0.7038}}},
   {"mark":{"type":"text","text":"fuller model:","color":"#00aa00","fontSize":30,"align":"left"},"encoding":{"x":{"datum":4.35},"y":{"datum":0.7038}}},
   {"mark":{"type":"text","text":"F","color":"#b00000","fontSize":28,"align":"left","baseline":"alphabetic"},"encoding":{"x":{"datum":3.07},"y":{"datum":0.6769}}},
   {"mark":{"type":"text","text":"-1","color":"#b00000","fontSize":21,"align":"left","baseline":"alphabetic"},"encoding":{"x":{"datum":3.18},"y":{"datum":0.6847}}},
   {"mark":{"type":"text","text":"0.5","color":"#b00000","fontSize":21,"align":"left","baseline":"alphabetic"},"encoding":{"x":{"datum":3.18},"y":{"datum":0.6685}}},
   {"mark":{"type":"text","text":"F′","color":"#b00000","fontSize":28,"align":"left","baseline":"alphabetic"},"encoding":{"x":{"datum":3.47},"y":{"datum":0.6769}}},
   {"mark":{"type":"text","text":"0.5","color":"#b00000","fontSize":21,"align":"left","baseline":"alphabetic"},"encoding":{"x":{"datum":3.63},"y":{"datum":0.6697}}},
   {"mark":{"type":"text","text":"λ","color":"#b00000","fontSize":38,"align":"center","baseline":"alphabetic"},"encoding":{"x":{"datum":4.07},"y":{"datum":0.6715}}},
   {"mark":{"type":"text","text":"F","color":"#00aa00","fontSize":28,"align":"left","baseline":"alphabetic"},"encoding":{"x":{"datum":4.39},"y":{"datum":0.6769}}},
   {"mark":{"type":"text","text":"-1","color":"#00aa00","fontSize":21,"align":"left","baseline":"alphabetic"},"encoding":{"x":{"datum":4.5},"y":{"datum":0.6847}}},
   {"mark":{"type":"text","text":"0.5","color":"#00aa00","fontSize":21,"align":"left","baseline":"alphabetic"},"encoding":{"x":{"datum":4.5},"y":{"datum":0.6685}}},
   {"mark":{"type":"text","text":"F′","color":"#00aa00","fontSize":28,"align":"left","baseline":"alphabetic"},"encoding":{"x":{"datum":4.78},"y":{"datum":0.6769}}},
   {"mark":{"type":"text","text":"0.5","color":"#00aa00","fontSize":21,"align":"left","baseline":"alphabetic"},"encoding":{"x":{"datum":4.95},"y":{"datum":0.6697}}},
   {"mark":{"type":"text","text":"λ","color":"#00aa00","fontSize":38,"align":"center","baseline":"alphabetic"},"encoding":{"x":{"datum":5.39},"y":{"datum":0.6715}}},
   {"mark":{"type":"point","shape":"circle","filled":true,"color":"#000","opacity":1,"size":530},"encoding":{"x":{"datum":2.834},"y":{"datum":0.6535}}},
   {"mark":{"type":"point","shape":"square","filled":true,"color":"#000","opacity":1,"size":400},"encoding":{"x":{"datum":2.834},"y":{"datum":0.6247}}},
   {"mark":{"type":"text","text":"1.87 0.249 0.00","fontSize":23,"align":"left"},"encoding":{"x":{"datum":3.08},"y":{"datum":0.6529}}},
   {"mark":{"type":"text","text":"1.79 0.253 0.01","fontSize":23,"align":"left"},"encoding":{"x":{"datum":4.41},"y":{"datum":0.6529}}},
   {"mark":{"type":"text","text":"1.87 0.279 0.06","fontSize":23,"align":"left"},"encoding":{"x":{"datum":3.08},"y":{"datum":0.6247}}},
   {"mark":{"type":"text","text":"2.14 0.247 0.00","fontSize":23,"align":"left"},"encoding":{"x":{"datum":4.4},"y":{"datum":0.6247}}},
   {"mark":{"type":"text","text":"Likelihood Ratio Test prefers","fontSize":28},"encoding":{"x":{"datum":4.12},"y":{"datum":0.6007}}},
   {"mark":{"type":"text","text":"lesser model (p = 0.749)","fontSize":28},"encoding":{"x":{"datum":4.13},"y":{"datum":0.5857}}},
   {"mark":{"type":"text","text":"AIC prefers lesser model","fontSize":28},"encoding":{"x":{"datum":4.13},"y":{"datum":0.563}}},
   {"mark":{"type":"text","text":"BIC prefers lesser model","fontSize":28},"encoding":{"x":{"datum":4.13},"y":{"datum":0.54}}},
   {"mark":{"type":"point","shape":"circle","filled":false,"color":"#b00000","opacity":1,"size":13225,"strokeWidth":6.5},"encoding":{"x":{"datum":3.22},"y":{"datum":0.6385}}}
  ]}
]},
{"spacing":0,"vconcat":[
 {"width":10,"height":4,"data":{"values":[]},"mark":"point","view":{"stroke":null}},
 {"spacing":14,"hconcat":[
 {"spacing":39,"title":{"text":"Placement: s1","anchor":"start","fontSize":48,"dx":53,"offset":-2},"vconcat":[
  {"data":{"name":"s1A"},"title":{"text":"lapse rates fixed at 0.025","dx":10,"offset":-6},"facet":{"row":{"field":"l","type":"ordinal","title":null,"header":{"labels":false}}},
   "spec":{"width":490,"height":86,"encoding":{"x":{"field":"b","type":"quantitative","scale":{"domain":[-0.2,20.2],"nice":false,"zero":false},"axis":{"values":[0,20],"labelExpr":"datum.value/20","title":"p-value (20 bins)"}},"y":{"field":"v","type":"quantitative","scale":{"domain":[0,0.1],"nice":false},"axis":{"values":[0.1],"title":null}}},
    "layer":[
     {"transform":[{"filter":"datum.t&&!datum.r"}],"mark":{"type":"rule","color":"#b4b4b4","strokeWidth":5},"encoding":{"x":{"datum":0},"x2":{"datum":20},"y":{"datum":0.05}}},
     {"transform":[{"filter":"datum.v&&!datum.r"}],"mark":{"type":"line","color":"#000"}},
     {"transform":[{"filter":"datum.t&&!datum.r"}],"mark":"text","encoding":{"x":{"datum":6.4},"y":{"datum":0.083},"text":{"field":"t"}}}]}},
  {"data":{"name":"s1B"},"title":{"text":"common free lapse rate","dx":10,"offset":-6},"facet":{"row":{"field":"l","type":"ordinal","title":null,"header":{"labels":false}}},
   "spec":{"width":490,"height":86,"encoding":{"x":{"field":"b","type":"quantitative","scale":{"domain":[-0.2,20.2],"nice":false,"zero":false},"axis":{"values":[0,20],"labelExpr":"datum.value/20","title":"p-value (20 bins)"}},"y":{"field":"v","type":"quantitative","scale":{"domain":[0,0.1],"nice":false},"axis":{"values":[0.1],"title":null}}},
    "layer":[
     {"transform":[{"filter":"datum.t&&!datum.r"}],"mark":{"type":"rule","color":"#b4b4b4","strokeWidth":5},"encoding":{"x":{"datum":0},"x2":{"datum":20},"y":{"datum":0.05}}},
     {"transform":[{"filter":"datum.v&&!datum.r"}],"mark":{"type":"line","color":"#000"}},
     {"transform":[{"filter":"datum.t&&!datum.r"}],"mark":"text","encoding":{"x":{"datum":6.4},"y":{"datum":0.083},"text":{"field":"t"}}}]}},
  {"data":{"name":"s1C"},"title":{"text":"individual free lapse rates","dx":10,"offset":-6},"facet":{"row":{"field":"l","type":"ordinal","title":null,"header":{"labels":false}}},
   "spec":{"width":490,"height":86,"encoding":{"x":{"field":"b","type":"quantitative","scale":{"domain":[-0.2,20.2],"nice":false,"zero":false},"axis":{"values":[0,20],"labelExpr":"datum.value/20","title":"p-value (20 bins)"}},"y":{"field":"v","type":"quantitative","scale":{"domain":[0,0.2],"nice":false},"axis":{"values":[0.2],"title":null}}},
    "layer":[
     {"transform":[{"filter":"datum.t&&!datum.r"}],"mark":{"type":"rule","color":"#b4b4b4","strokeWidth":5},"encoding":{"x":{"datum":0},"x2":{"datum":20},"y":{"datum":0.05}}},
     {"transform":[{"filter":"datum.v&&!datum.r"}],"mark":{"type":"line","color":"#000"}},
     {"transform":[{"filter":"datum.t&&!datum.r"}],"mark":"text","encoding":{"x":{"datum":6.4},"y":{"datum":0.166},"text":{"field":"t"}}}]}}
 ]},
 {"spacing":39,"title":{"text":"Placement: s2","anchor":"start","fontSize":48,"dx":53,"offset":-2},"vconcat":[
  {"data":{"name":"s2A"},"title":{"text":"lapse rates fixed at 0.025","dx":10,"offset":-6},"facet":{"row":{"field":"l","type":"ordinal","title":null,"header":{"labels":false}}},
   "spec":{"width":490,"height":86,"encoding":{"x":{"field":"b","type":"quantitative","scale":{"domain":[-0.2,20.2],"nice":false,"zero":false},"axis":{"values":[0,20],"labelExpr":"datum.value/20","title":"p-value (20 bins)"}},"y":{"field":"v","type":"quantitative","scale":{"domain":[0,0.1],"nice":false},"axis":{"values":[0.1],"title":null}}},
    "layer":[
     {"transform":[{"filter":"datum.t&&!datum.r"}],"mark":{"type":"rule","color":"#b4b4b4","strokeWidth":5},"encoding":{"x":{"datum":0},"x2":{"datum":20},"y":{"datum":0.05}}},
     {"transform":[{"filter":"datum.v&&!datum.r"}],"mark":{"type":"line","color":"#000"}},
     {"transform":[{"filter":"datum.t&&!datum.r"}],"mark":"text","encoding":{"x":{"datum":6.4},"y":{"datum":0.083},"text":{"field":"t"}}}]}},
  {"data":{"name":"s2B"},"title":{"text":"common free lapse rate","dx":10,"offset":-6},"facet":{"row":{"field":"l","type":"ordinal","title":null,"header":{"labels":false}}},
   "spec":{"width":490,"height":86,"encoding":{"x":{"field":"b","type":"quantitative","scale":{"domain":[-0.2,20.2],"nice":false,"zero":false},"axis":{"values":[0,20],"labelExpr":"datum.value/20","title":"p-value (20 bins)"}},"y":{"field":"v","type":"quantitative","scale":{"domain":[0,0.1],"nice":false},"axis":{"values":[0.1],"title":null}}},
    "layer":[
     {"transform":[{"filter":"datum.t&&!datum.r"}],"mark":{"type":"rule","color":"#b4b4b4","strokeWidth":5},"encoding":{"x":{"datum":0},"x2":{"datum":20},"y":{"datum":0.05}}},
     {"transform":[{"filter":"datum.v&&!datum.r"}],"mark":{"type":"line","color":"#000"}},
     {"transform":[{"filter":"datum.t&&!datum.r"}],"mark":"text","encoding":{"x":{"datum":6.4},"y":{"datum":0.083},"text":{"field":"t"}}}]}},
  {"data":{"name":"s2C"},"title":{"text":"individual free lapse rates","dx":10,"offset":-6},"facet":{"row":{"field":"l","type":"ordinal","title":null,"header":{"labels":false}}},
   "spec":{"width":490,"height":86,"encoding":{"x":{"field":"b","type":"quantitative","scale":{"domain":[-0.2,20.2],"nice":false,"zero":false},"axis":{"values":[0,20],"labelExpr":"datum.value/20","title":"p-value (20 bins)"}},"y":{"field":"v","type":"quantitative","scale":{"domain":[0,0.1],"nice":false},"axis":{"values":[0.1],"title":null}}},
    "layer":[
     {"transform":[{"filter":"datum.t&&!datum.r"}],"mark":{"type":"rule","color":"#b4b4b4","strokeWidth":5},"encoding":{"x":{"datum":0},"x2":{"datum":20},"y":{"datum":0.05}}},
     {"transform":[{"filter":"datum.v&&!datum.r"}],"mark":{"type":"line","color":"#000"}},
     {"transform":[{"filter":"datum.t&&!datum.r"}],"mark":"text","encoding":{"x":{"datum":6.4},"y":{"datum":0.083},"text":{"field":"t"}}}]}}
 ]},
 {"spacing":39,"title":{"text":"Placement: s5","anchor":"start","fontSize":48,"dx":53,"offset":-2},"vconcat":[
  {"data":{"name":"s5A"},"title":{"text":"lapse rates fixed at 0.025","dx":10,"offset":-6},"facet":{"row":{"field":"l","type":"ordinal","title":null,"header":{"labels":false}}},
   "spec":{"width":490,"height":86,"encoding":{"x":{"field":"b","type":"quantitative","scale":{"domain":[-0.2,20.2],"nice":false,"zero":false},"axis":{"values":[0,20],"labelExpr":"datum.value/20","title":"p-value (20 bins)"}},"y":{"field":"v","type":"quantitative","scale":{"domain":[0,0.1],"nice":false},"axis":{"values":[0.1],"title":null}}},
    "layer":[
     {"transform":[{"filter":"datum.t&&!datum.r"}],"mark":{"type":"rule","color":"#b4b4b4","strokeWidth":5},"encoding":{"x":{"datum":0},"x2":{"datum":20},"y":{"datum":0.05}}},
     {"transform":[{"filter":"datum.v&&!datum.r"}],"mark":{"type":"line","color":"#000"}},
     {"transform":[{"filter":"datum.t&&!datum.r"}],"mark":"text","encoding":{"x":{"datum":6.4},"y":{"datum":0.083},"text":{"field":"t"}}}]}},
  {"data":{"name":"s5B"},"title":{"text":"common free lapse rate","dx":10,"offset":-6},"facet":{"row":{"field":"l","type":"ordinal","title":null,"header":{"labels":false}}},
   "spec":{"width":490,"height":86,"encoding":{"x":{"field":"b","type":"quantitative","scale":{"domain":[-0.2,20.2],"nice":false,"zero":false},"axis":{"values":[0,20],"labelExpr":"datum.value/20","title":"p-value (20 bins)"}},"y":{"field":"v","type":"quantitative","scale":{"domain":[0,0.1],"nice":false},"axis":{"values":[0.1],"title":null}}},
    "layer":[
     {"transform":[{"filter":"datum.t&&!datum.r"}],"mark":{"type":"rule","color":"#b4b4b4","strokeWidth":5},"encoding":{"x":{"datum":0},"x2":{"datum":20},"y":{"datum":0.05}}},
     {"transform":[{"filter":"datum.v&&!datum.r"}],"mark":{"type":"line","color":"#000"}},
     {"transform":[{"filter":"datum.t&&!datum.r"}],"mark":"text","encoding":{"x":{"datum":6.4},"y":{"datum":0.083},"text":{"field":"t"}}}]}},
  {"data":{"name":"s5C"},"title":{"text":"individual free lapse rates","dx":10,"offset":-6},"facet":{"row":{"field":"l","type":"ordinal","title":null,"header":{"labels":false}}},
   "spec":{"width":490,"height":86,"encoding":{"x":{"field":"b","type":"quantitative","scale":{"domain":[-0.2,20.2],"nice":false,"zero":false},"axis":{"values":[0,20],"labelExpr":"datum.value/20","title":"p-value (20 bins)"}},"y":{"field":"v","type":"quantitative","scale":{"domain":[0,0.1],"nice":false},"axis":{"values":[0.1],"title":null}}},
    "layer":[
     {"transform":[{"filter":"datum.t&&!datum.r"}],"mark":{"type":"rule","color":"#b4b4b4","strokeWidth":5},"encoding":{"x":{"datum":0},"x2":{"datum":20},"y":{"datum":0.05}}},
     {"transform":[{"filter":"datum.v&&!datum.r"}],"mark":{"type":"line","color":"#000"}},
     {"transform":[{"filter":"datum.t&&!datum.r"}],"mark":"text","encoding":{"x":{"datum":6.4},"y":{"datum":0.083},"text":{"field":"t"}}}]}}
 ]},
 {"spacing":39,"title":{"text":"Placement: ψ","anchor":"start","fontSize":48,"dx":54,"offset":-2},"vconcat":[
  {"data":{"name":"pA"},"bounds":"flush","title":{"text":"lapse rates fixed at 0.025","dx":-34,"offset":-38},"facet":{"row":{"field":"l","type":"ordinal","title":null,"header":{"labelExpr":"['0.000','0.025','0.050'][datum.value]","labelOrient":"right","labelAngle":0,"labelAlign":"left","labelBaseline":"middle","labelFontSize":31,"labelPadding":-50}}},
   "spec":{"width":490,"height":86,"encoding":{"x":{"field":"b","type":"quantitative","scale":{"domain":[-0.2,20.2],"nice":false,"zero":false},"axis":{"values":[0,20],"labelExpr":"datum.value/20","title":"p-value (20 bins)"}},"y":{"field":"v","type":"quantitative","scale":{"domain":[0,0.1],"nice":false},"axis":{"values":[0.1],"title":null}}},
    "layer":[
     {"transform":[{"filter":"datum.t&&!datum.r"}],"mark":{"type":"rule","color":"#b4b4b4","strokeWidth":5},"encoding":{"x":{"datum":0},"x2":{"datum":20},"y":{"datum":0.05}}},
     {"transform":[{"filter":"datum.v&&datum.r"}],"mark":{"type":"line","color":"#ff0000"}},
     {"transform":[{"filter":"datum.v&&!datum.r"}],"mark":{"type":"line","color":"#000"}},
     {"transform":[{"filter":"datum.t&&!datum.r"}],"mark":"text","encoding":{"x":{"datum":6.4},"y":{"datum":0.083},"text":{"field":"t"}}},
     {"transform":[{"filter":"datum.t&&datum.r"}],"mark":{"type":"text","color":"#ff0000"},"encoding":{"x":{"datum":11.3},"y":{"datum":0.083},"text":{"field":"t"}}},
     {"transform":[{"filter":"datum.t&&!datum.r&&datum.l==0"}],"mark":{"type":"text","text":"λ","fontSize":31,"baseline":"alphabetic","clip":false},"encoding":{"x":{"datum":22.5},"y":{"datum":0.1244}}},
     {"transform":[{"filter":"datum.t&&!datum.r&&datum.l==0"}],"mark":{"type":"text","text":"gen","fontSize":22,"baseline":"alphabetic","align":"left","clip":false},"encoding":{"x":{"datum":22.82},"y":{"datum":0.1128}}}]}},
  {"data":{"name":"pB"},"title":{"text":"common free lapse rate","dx":-34,"offset":-6},"facet":{"row":{"field":"l","type":"ordinal","title":null,"header":{"labelExpr":"['0.000','0.025','0.050'][datum.value]","labelOrient":"right","labelAngle":0,"labelAlign":"left","labelBaseline":"middle","labelFontSize":31,"labelPadding":-50}}},
   "spec":{"width":490,"height":86,"encoding":{"x":{"field":"b","type":"quantitative","scale":{"domain":[-0.2,20.2],"nice":false,"zero":false},"axis":{"values":[0,20],"labelExpr":"datum.value/20","title":"p-value (20 bins)"}},"y":{"field":"v","type":"quantitative","scale":{"domain":[0,0.1],"nice":false},"axis":{"values":[0.1],"title":null}}},
    "layer":[
     {"transform":[{"filter":"datum.t&&!datum.r"}],"mark":{"type":"rule","color":"#b4b4b4","strokeWidth":5},"encoding":{"x":{"datum":0},"x2":{"datum":20},"y":{"datum":0.05}}},
     {"transform":[{"filter":"datum.v&&datum.r"}],"mark":{"type":"line","color":"#ff0000"}},
     {"transform":[{"filter":"datum.v&&!datum.r"}],"mark":{"type":"line","color":"#000"}},
     {"transform":[{"filter":"datum.t&&!datum.r"}],"mark":"text","encoding":{"x":{"datum":6.4},"y":{"datum":0.083},"text":{"field":"t"}}},
     {"transform":[{"filter":"datum.t&&datum.r"}],"mark":{"type":"text","color":"#ff0000"},"encoding":{"x":{"datum":11.3},"y":{"datum":0.083},"text":{"field":"t"}}}]}},
  {"data":{"name":"pC"},"title":{"text":"individual free lapse rates","dx":-34,"offset":-6},"facet":{"row":{"field":"l","type":"ordinal","title":null,"header":{"labelExpr":"['0.000','0.025','0.050'][datum.value]","labelOrient":"right","labelAngle":0,"labelAlign":"left","labelBaseline":"middle","labelFontSize":31,"labelPadding":-50}}},
   "spec":{"width":490,"height":86,"encoding":{"x":{"field":"b","type":"quantitative","scale":{"domain":[-0.2,20.2],"nice":false,"zero":false},"axis":{"values":[0,20],"labelExpr":"datum.value/20","title":"p-value (20 bins)"}},"y":{"field":"v","type":"quantitative","scale":{"domain":[0,0.1],"nice":false},"axis":{"values":[0.1],"title":null}}},
    "layer":[
     {"transform":[{"filter":"datum.t&&!datum.r"}],"mark":{"type":"rule","color":"#b4b4b4","strokeWidth":5},"encoding":{"x":{"datum":0},"x2":{"datum":20},"y":{"datum":0.05}}},
     {"transform":[{"filter":"datum.v&&datum.r"}],"mark":{"type":"line","color":"#ff0000"}},
     {"transform":[{"filter":"datum.v&&!datum.r"}],"mark":{"type":"line","color":"#000"}},
     {"transform":[{"filter":"datum.t&&!datum.r"}],"mark":"text","encoding":{"x":{"datum":6.4},"y":{"datum":0.083},"text":{"field":"t"}}},
     {"transform":[{"filter":"datum.t&&datum.r"}],"mark":{"type":"text","color":"#ff0000"},"encoding":{"x":{"datum":11.3},"y":{"datum":0.083},"text":{"field":"t"}}}]}}
 ]}
 ]}
]}
]
}
